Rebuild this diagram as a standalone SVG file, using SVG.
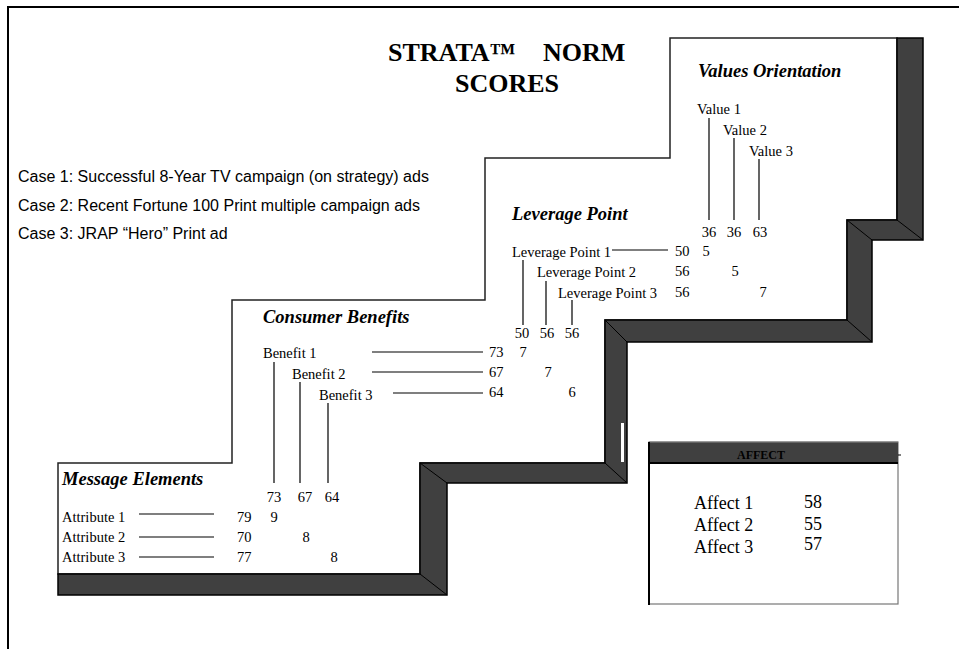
<svg xmlns="http://www.w3.org/2000/svg" width="959" height="649" viewBox="0 0 959 649">
<style>
.serif{font-family:"Liberation Serif","Times New Roman",serif;fill:#000}
.sm{font-size:14.5px}
.hd{font-size:18.5px;font-weight:bold;font-style:italic}
.num{font-size:14.5px;text-anchor:middle}
.ttl{font-size:26px;font-weight:bold}
.case{font-family:"Liberation Sans",Arial,sans-serif;font-size:16px;fill:#000}
.ln{stroke:#000;stroke-width:1.2;fill:none}
.shadow{fill:#404040;stroke:#000;stroke-width:1.5;stroke-linejoin:miter}
.bevel{stroke:#000;stroke-width:1;fill:none}
</style>
<rect width="959" height="649" fill="#fff"/>
<g id="frame">
<path d="M8,649 V7 H959" fill="none" stroke="#000" stroke-width="2"/>
</g>
<g id="staircase">
<path d="M670,38 H897 V220 H847 V320 H605 V463 H420 V574 H58 V463 H232 V300 H485 V158 H670 Z" fill="#fff" stroke="#222" stroke-width="1.5"/>
<path class="shadow" d="M897,38 H923 V240 H872 V342 H627 V483 H447 V595 H58 V574 H420 V463 H605 V320 H847 V220 H897 Z"/>
<path class="bevel" d="M897,220 L923,240 M847,220 L872,240 M847,320 L872,342 M605,320 L627,342 M605,463 L627,483 M420,463 L447,483 M420,574 L447,595"/>
<rect x="621" y="423" width="3" height="39" fill="#fff"/>
</g>
<g id="title">
<text class="serif ttl" x="388" y="61">STRATA™</text>
<text class="serif ttl" x="543" y="61">NORM</text>
<text class="serif ttl" x="507" y="92" text-anchor="middle">SCORES</text>
</g>
<g id="cases">
<text class="case" x="18" y="182">Case 1: Successful 8-Year TV campaign (on strategy) ads</text>
<text class="case" x="18" y="211">Case 2: Recent Fortune 100 Print multiple campaign ads</text>
<text class="case" x="18" y="239">Case 3: JRAP “Hero” Print ad</text>
</g>
<g id="values-orientation">
<text class="serif hd" x="698" y="77">Values Orientation</text>
<text class="serif sm" x="697" y="114">Value 1</text>
<text class="serif sm" x="723" y="135">Value 2</text>
<text class="serif sm" x="749" y="156">Value 3</text>
<text class="serif num" x="709" y="237">36</text>
<text class="serif num" x="734" y="237">36</text>
<text class="serif num" x="760" y="237">63</text>
</g>
<g id="leverage-point">
<text class="serif hd" x="512" y="220">Leverage Point</text>
<text class="serif sm" x="512" y="257">Leverage Point 1</text>
<text class="serif sm" x="537" y="277">Leverage Point 2</text>
<text class="serif sm" x="558" y="298">Leverage Point 3</text>
<text class="serif sm" x="675" y="256">50</text>
<text class="serif num" x="706" y="256">5</text>
<text class="serif sm" x="675" y="276">56</text>
<text class="serif num" x="735" y="276">5</text>
<text class="serif sm" x="675" y="297">56</text>
<text class="serif num" x="763" y="297">7</text>
<text class="serif num" x="522" y="338">50</text>
<text class="serif num" x="547" y="338">56</text>
<text class="serif num" x="572" y="338">56</text>
</g>
<g id="consumer-benefits">
<text class="serif hd" x="263" y="323">Consumer Benefits</text>
<text class="serif sm" x="263" y="358">Benefit 1</text>
<text class="serif sm" x="292" y="379">Benefit 2</text>
<text class="serif sm" x="319" y="400">Benefit 3</text>
<text class="serif sm" x="489" y="357">73</text>
<text class="serif num" x="523" y="357">7</text>
<text class="serif sm" x="489" y="377">67</text>
<text class="serif num" x="548" y="377">7</text>
<text class="serif sm" x="489" y="397">64</text>
<text class="serif num" x="572" y="397">6</text>
<text class="serif num" x="274" y="502">73</text>
<text class="serif num" x="305" y="502">67</text>
<text class="serif num" x="332" y="502">64</text>
</g>
<g id="message-elements">
<text class="serif hd" x="62" y="485">Message Elements</text>
<text class="serif sm" x="62" y="522">Attribute 1</text>
<text class="serif sm" x="62" y="542">Attribute 2</text>
<text class="serif sm" x="62" y="562">Attribute 3</text>
<text class="serif sm" x="237" y="522">79</text>
<text class="serif num" x="274" y="522">9</text>
<text class="serif sm" x="237" y="542">70</text>
<text class="serif num" x="306" y="542">8</text>
<text class="serif sm" x="237" y="562">77</text>
<text class="serif num" x="334" y="562">8</text>
</g>
<g id="affect">
<rect x="649" y="442" width="249" height="162" fill="#fff" stroke="#777" stroke-width="1.2"/>
<rect x="649" y="442" width="249" height="21" fill="#404040"/>
<line x1="649" y1="442" x2="898" y2="442" stroke="#888" stroke-width="1"/>
<line x1="649" y1="463" x2="898" y2="463" stroke="#000" stroke-width="2"/>
<line x1="649" y1="442" x2="649" y2="605" stroke="#000" stroke-width="2"/>
<line x1="898" y1="455" x2="901" y2="455" stroke="#000" stroke-width="1"/>
<text class="serif" x="761" y="459" font-size="12" font-weight="bold" text-anchor="middle">AFFECT</text>
<text class="serif" x="694" y="509" font-size="18">Affect 1</text>
<text class="serif" x="694" y="531" font-size="18">Affect 2</text>
<text class="serif" x="694" y="553" font-size="18">Affect 3</text>
<text class="serif" x="804" y="508" font-size="18">58</text>
<text class="serif" x="804" y="530" font-size="18">55</text>
<text class="serif" x="804" y="550" font-size="18">57</text>
</g>
<g id="connectors">
<path class="ln" d="M709,118 V220 M734,138 V220 M759,159 V220"/>
<path class="ln" d="M612,250 H668"/>
<path class="ln" d="M523,260 V325 M546,281 V325 M572,300 V325"/>
<path class="ln" d="M372,352 H483 M372,372 H483 M393,393 H483"/>
<path class="ln" d="M274,362 V483 M300,382 V483 M328,403 V483"/>
<path class="ln" d="M139,514 H214 M139,537 H214 M139,557 H214"/>
</g>
</svg>
